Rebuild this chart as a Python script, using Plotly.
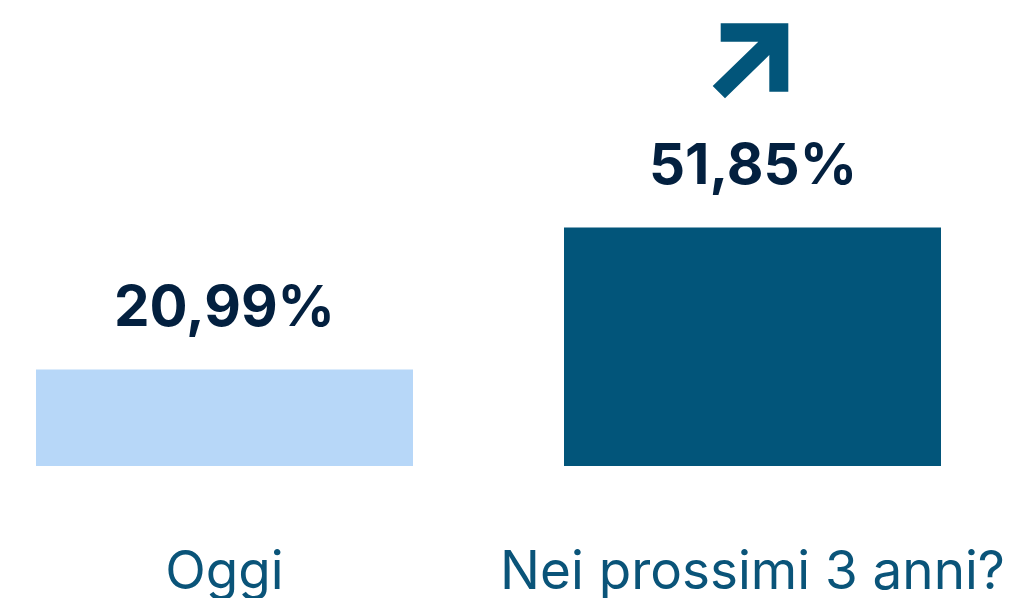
import plotly.graph_objects as go

categories = ["Oggi", "Nei prossimi 3 anni?"]
values = [20.99, 51.85]
value_labels = ["20,99%", "51,85%"]
bar_colors = ["#b7d7f8", "#02557a"]

OFF = 8                 # page body margin in the browser
W, H = 1020 - OFF, 598 - OFF
BASE_PX = 466 - OFF     # pixel row of the baseline (figure coords)
PX_PER_UNIT = 4.6       # vertical scale

fig = go.Figure()
fig.add_trace(go.Bar(
    x=categories, y=values, marker=dict(color=bar_colors, line=dict(width=0)),
    width=0.714, hoverinfo="skip",
))

for c, v, t in zip(categories, values, value_labels):
    fig.add_annotation(x=c, y=v, text=t, showarrow=False, yanchor="bottom",
                       yshift=27, font=dict(family="Inter", size=56.5, color="#03203f", weight="bold"))

# arrow icon (decoration), defined in reference pixels and converted to paper coords
def px(xp, yp):
    return (xp - OFF) / W, (BASE_PX - (yp - OFF)) / BASE_PX

pts = [(720.7, 23.3), (788.3, 23.3), (788.3, 91.7), (769.3, 91.7), (769.3, 55.0),
       (725.0, 98.3), (712.7, 86.0), (758.3, 41.7), (720.7, 41.7)]
path = "M " + " L ".join(f"{px(a, b)[0]:.5f},{px(a, b)[1]:.5f}" for a, b in pts) + " Z"
fig.add_shape(type="path", path=path, xref="paper", yref="paper",
              fillcolor="#02557a", line=dict(width=0))

c0 = 224.5 - OFF
x0 = -c0 / 528
x1 = 1 + (W - (752.5 - OFF)) / 528
fig.update_layout(
    width=W, height=H, margin=dict(l=0, r=0, t=0, b=H - BASE_PX),
    plot_bgcolor="white", paper_bgcolor="white", showlegend=False,
    xaxis=dict(range=[x0, x1], showgrid=False, zeroline=False, showline=False,
               ticks="", tickfont=dict(family="Inter", size=53, color="#0a5479"),
               ticklabelstandoff=69, automargin=False),
    yaxis=dict(range=[0, BASE_PX / PX_PER_UNIT], visible=False),
)
fig.write_html("out.html")
